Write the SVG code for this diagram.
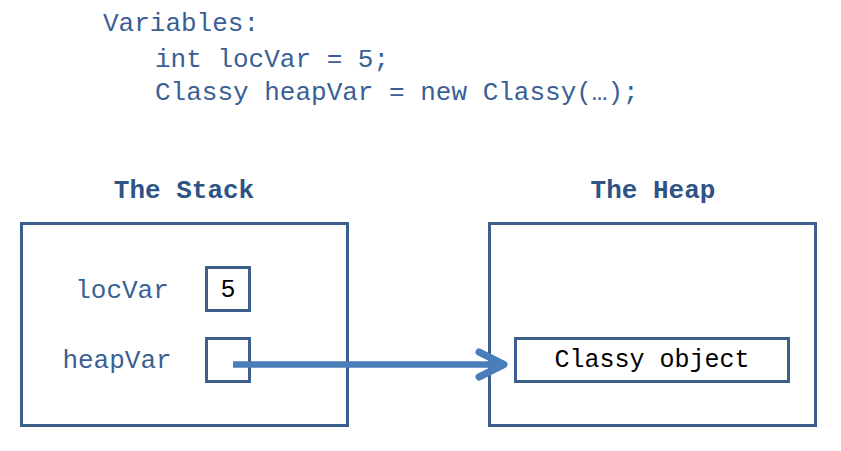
<svg xmlns="http://www.w3.org/2000/svg" width="841" height="451" viewBox="0 0 841 451">
<style>
.code{font-family:"Liberation Mono","Courier New",monospace;font-size:26px;fill:#3A5F94}
.title{font-family:"Liberation Mono","Courier New",monospace;font-size:26px;font-weight:bold;fill:#2E5385}
.val{font-family:"Liberation Mono","Courier New",monospace;font-size:25px;fill:#000}
.box{fill:#fff;stroke:#3C5F8E;stroke-width:3}
</style>
<rect width="841" height="451" fill="#fff"/>
<g id="code">
<text class="code" x="103" y="31">Variables:</text>
<text class="code" x="155" y="67">int locVar = 5;</text>
<text class="code" x="155" y="100">Classy heapVar = new Classy(…);</text>
</g>
<g id="stack">
<text class="title" x="184" y="198" text-anchor="middle">The Stack</text>
<rect class="box" x="21.5" y="223.5" width="326" height="202"/>
</g>
<g id="heap">
<text class="title" x="653" y="198" text-anchor="middle">The Heap</text>
<rect class="box" x="489.5" y="223.5" width="326" height="202"/>
</g>
<g id="locVar">
<text class="code" x="122" y="298" text-anchor="middle">locVar</text>
<rect class="box" x="206.5" y="267.5" width="43" height="43"/>
<text class="val" x="228" y="297" text-anchor="middle">5</text>
</g>
<g id="heapVar">
<text class="code" x="117" y="368" text-anchor="middle">heapVar</text>
<rect class="box" x="206.5" y="338.5" width="43" height="43"/>
</g>
<g id="classyObject">
<rect class="box" x="515.5" y="338.5" width="273" height="43"/>
<text class="val" x="652" y="367" text-anchor="middle">Classy object</text>
</g>
<g id="connectors">
<line x1="233" y1="364.5" x2="503" y2="364.5" stroke="#4A7EBB" stroke-width="6.5"/>
<polyline points="479,352 504,364.5 479,377" fill="none" stroke="#4A7EBB" stroke-width="7" stroke-linecap="round" stroke-linejoin="round"/>
</g>
</svg>
